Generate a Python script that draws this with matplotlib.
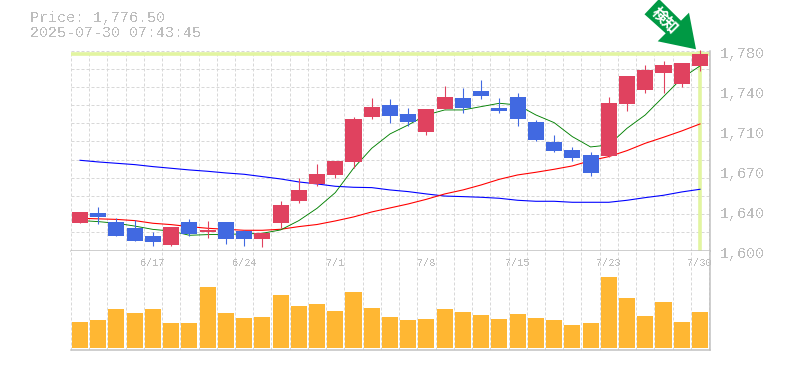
import matplotlib
matplotlib.use("Agg")
import numpy as np
import matplotlib.pyplot as plt
from matplotlib.patches import Polygon

# daily candles
opens = [1624.8, 1633.8, 1625.7, 1620.3, 1613.1, 1605.0, 1625.7, 1616.7, 1625.7, 1617.6, 1610.4, 1624.8,
         1644.6, 1659.9, 1668.0, 1679.7, 1720.2, 1731.0, 1722.9, 1706.7, 1727.4, 1737.3, 1743.6, 1728.3,
         1738.2, 1715.7, 1697.7, 1690.5, 1686.0, 1685.1, 1731.9, 1744.5, 1759.8, 1749.9, 1766.1]
highs = [1634.7, 1639.2, 1629.0, 1627.5, 1616.7, 1621.2, 1628.4, 1626.6, 1625.7, 1618.5, 1615.8, 1644.6,
         1665.3, 1677.9, 1680.6, 1720.2, 1737.3, 1736.4, 1728.3, 1727.4, 1748.1, 1746.3, 1753.5, 1737.3,
         1741.8, 1717.5, 1704.0, 1693.2, 1688.7, 1738.2, 1757.1, 1767.0, 1770.6, 1768.8, 1780.5]
lows = [1624.8, 1623.9, 1613.1, 1608.6, 1604.1, 1604.1, 1613.1, 1611.3, 1605.9, 1604.1, 1603.2, 1620.3,
        1642.8, 1658.1, 1665.3, 1674.3, 1718.4, 1714.8, 1712.1, 1704.0, 1727.4, 1723.8, 1736.4, 1723.8,
        1712.1, 1698.6, 1688.7, 1680.6, 1667.1, 1684.2, 1725.6, 1741.8, 1741.8, 1747.2, 1761.6]
closes = [1634.7, 1630.2, 1613.1, 1608.6, 1607.7, 1621.2, 1614.9, 1618.5, 1610.4, 1610.4, 1615.8, 1641.0,
          1654.5, 1668.9, 1680.6, 1718.4, 1729.2, 1721.1, 1715.7, 1727.4, 1738.2, 1728.3, 1739.1, 1725.6,
          1718.4, 1699.5, 1689.6, 1683.3, 1669.8, 1732.8, 1757.1, 1762.5, 1767.0, 1768.8, 1776.5]
volumes = [26, 28, 39, 35, 39, 25, 25, 61, 35, 30, 31, 53, 42, 44, 37, 56, 40, 31,
           28, 29, 39, 36, 33, 29, 34, 30, 28, 23, 25, 71, 50, 32, 46, 26, 36]

ma_short = [1627.0, 1626.0, 1624.5, 1622.0, 1619.0, 1617.5, 1613.7, 1614.3, 1614.6, 1614.9, 1615.5, 1618.5,
            1626.9, 1638.0, 1652.1, 1674.0, 1692.0, 1704.9, 1713.0, 1722.0, 1726.5, 1726.5, 1729.5, 1732.5,
            1731.0, 1722.0, 1715.1, 1702.5, 1693.2, 1695.0, 1710.0, 1722.0, 1738.5, 1755.0, 1766.1]
ma_mid = [1629.0, 1628.5, 1628.0, 1626.9, 1624.5, 1623.3, 1621.5, 1620.0, 1619.1, 1618.2, 1618.2, 1619.1,
          1621.5, 1623.4, 1626.6, 1630.2, 1634.7, 1638.3, 1641.9, 1646.1, 1650.9, 1654.5, 1659.0, 1664.1,
          1668.0, 1670.4, 1673.1, 1676.1, 1680.9, 1684.5, 1689.9, 1696.5, 1701.9, 1707.6, 1713.9]
ma_long = [1681.2, 1679.7, 1678.5, 1677.3, 1675.5, 1674.0, 1672.5, 1671.3, 1669.8, 1668.6, 1666.5, 1664.4,
           1661.7, 1659.9, 1657.8, 1656.9, 1656.6, 1654.5, 1653.0, 1650.9, 1649.0, 1648.5, 1647.9, 1647.0,
           1645.2, 1644.3, 1644.3, 1643.4, 1643.4, 1643.4, 1645.2, 1647.6, 1649.7, 1652.7, 1655.1]

y_ticks = [1780, 1744, 1708, 1672, 1636, 1600]
y_labels = ["1,780", "1,740", "1,710", "1,670", "1,640", "1,600"]
date_idx = [4, 9, 14, 19, 24, 29, 34]
date_labels = ["6/17", "6/24", "7/1", "7/8", "7/15", "7/23", "7/30"]
last_price = 1776.5

W, H = 785, 370
UP = "#e0425f"
DOWN = "#4169e1"
GRID = "#d8d8d8"
FRAME = "#c0c0c0"
LABEL = "#bdbdbd"
MONO = "Liberation Mono"
PX = 0.72  # one pixel in points at dpi 100
DASH = (0, (3, 2))

plt.rcParams["text.antialiased"] = False


def px_axes(fig, left, top, right, bottom):
    return fig.add_axes([left / W, 1 - bottom / H, (right - left) / W, (bottom - top) / H])


fig = plt.figure(figsize=(W / 100, H / 100), dpi=100, facecolor="white")
ax = px_axes(fig, 70.5, 50.5, 710, 250.5)
vol = px_axes(fig, 70.5, 250.5, 710, 350)

x = np.arange(len(closes))
xlim = (-0.521, 34.55)
grid_x = np.arange(len(closes) + 1) - 0.5

for a in (ax, vol):
    a.set_xlim(xlim)
    a.set_xticks(grid_x)
    a.grid(True, axis="x", color=GRID, lw=PX, ls=DASH, zorder=0)
    a.tick_params(length=0, labelbottom=False, labelleft=False)
    a.set_axisbelow(True)
    for side in ("top", "left"):
        a.spines[side].set_visible(False)
    for side in ("right", "bottom"):
        a.spines[side].set_color(FRAME)
        a.spines[side].set_linewidth(1.5 * PX)

# price panel
ax.set_ylim(1600, 1780)
ax.set_yticks(np.linspace(1600, 1780, 12))
ax.grid(True, axis="y", color=GRID, lw=PX, ls=DASH, zorder=0)
for gl in ax.get_ygridlines()[-1:] + ax.get_xgridlines()[:1] + vol.get_xgridlines()[:1]:
    gl.set_clip_on(False)

ax.axhline(last_price, color="#e2f5a0", lw=3.6 * PX, zorder=1)
ax.axvline(x[-1], ymax=0.995, color="#e2f5a0", lw=3.6 * PX, zorder=1)

ax.plot(x, ma_long, color="#0000ff", lw=1.1 * PX, zorder=2)
ax.plot(x, ma_mid, color="#ff0000", lw=1.1 * PX, zorder=2)
ax.plot(x, ma_short, color="#008000", lw=0.9 * PX, zorder=2)

opens_a, closes_a = np.array(opens), np.array(closes)
colors = [UP if c >= o else DOWN for o, c in zip(opens, closes)]
ax.vlines(x, lows, highs, colors=colors, lw=1.1 * PX, zorder=3, clip_on=False)
ax.bar(x, np.abs(closes_a - opens_a), bottom=np.minimum(opens_a, closes_a), width=0.88,
       color=colors, linewidth=0, zorder=4)

for val, lab in zip(y_ticks, y_labels):
    ax.annotate(lab, (1, val), xycoords=ax.get_yaxis_transform(), xytext=(10, -3.5),
                textcoords="offset pixels", ha="left", va="center",
                family=MONO, fontsize=10.8, color=LABEL, annotation_clip=False)

# volume panel
vol.set_ylim(-2, 97.5)
vol.bar(x, volumes, width=0.88, color="#ffb733", linewidth=0, zorder=3)
for idx, lab in zip(date_idx, date_labels):
    vol.annotate(lab, (idx, 1), xycoords=vol.get_xaxis_transform(), xytext=(0, -12),
                 textcoords="offset pixels", ha="center", va="center",
                 family=MONO, fontsize=7.4, color=LABEL, annotation_clip=False, zorder=5)
vol.set_yticks([])

# header text
fig.text(30 / W, 1 - 18 / H, "Price: 1,776.50", family=MONO, fontsize=10.8, color=LABEL, va="center")
fig.text(30 / W, 1 - 33 / H, "2025-07-30 07:43:45", family=MONO, fontsize=10.8, color=LABEL, va="center")

# signal arrow
arrow_px = [(644.5, 14.3), (659, -1), (681, 20.7), (689, 12.7), (696, 49.3), (657.7, 41.3), (665.7, 33.3)]
arrow_pts = [(px / W, 1 - py / H) for px, py in arrow_px]
fig.add_artist(Polygon(arrow_pts, closed=True, transform=fig.transFigure,
                       facecolor="#009944", edgecolor="none", zorder=10))
fig.text(665.5 / W, 1 - 20.5 / H, "検知", family=["Noto Sans CJK JP", "DejaVu Sans"], fontsize=11,
         fontweight="bold", color="white", rotation=-45, rotation_mode="anchor",
         ha="center", va="center", zorder=11, antialiased=True)

fig.savefig("out.png", dpi=100, facecolor="white")
